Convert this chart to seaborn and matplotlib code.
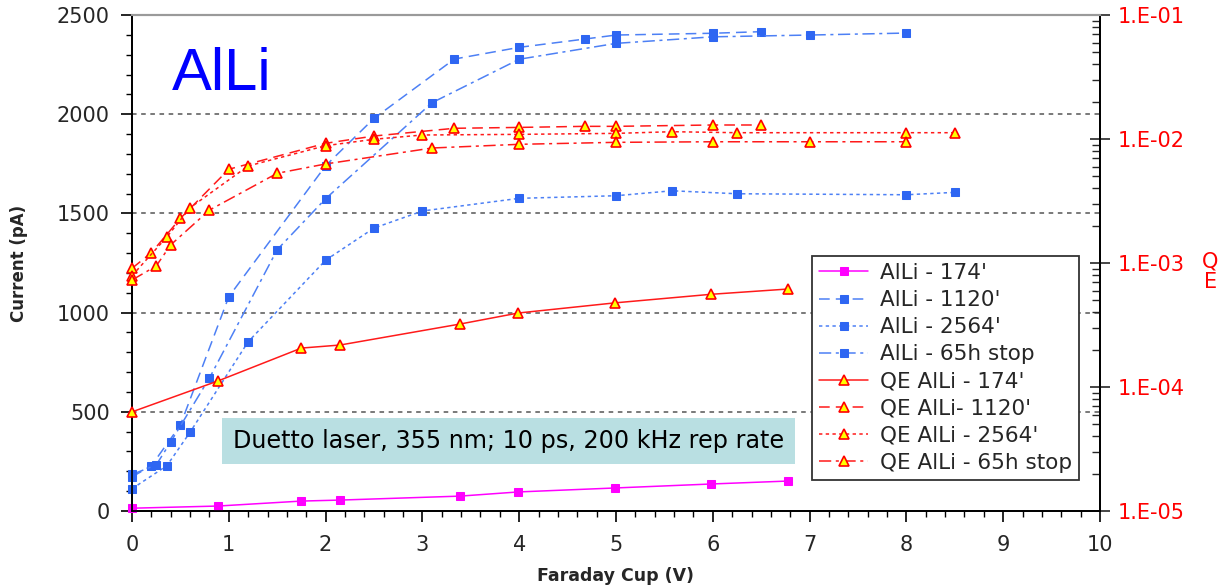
import numpy as np
import pandas as pd
import matplotlib
matplotlib.use("Agg")
import matplotlib.pyplot as plt
import seaborn as sns
from matplotlib.ticker import MultipleLocator, FuncFormatter, LogLocator, NullFormatter

# ---------------- data ----------------
x_174 = [0, 0.89, 1.75, 2.15, 3.39, 3.99, 4.99, 5.98, 6.78]
cur_174 = [14, 25, 50, 55, 75, 96, 116, 136, 151]
qe_174 = [6.3e-5, 1.12e-4, 2.06e-4, 2.18e-4, 3.22e-4, 3.95e-4, 4.77e-4, 5.59e-4, 6.17e-4]

x_1120 = [0, 0.2, 0.5, 1.0, 2.0, 2.5, 3.33, 4.0, 4.68, 5.0, 6.0, 6.5]
cur_1120 = [172, 228, 433, 1080, 1740, 1979, 2278, 2337, 2379, 2399, 2408, 2416]
qe_1120 = [9.06e-4, 1.21e-3, 2.29e-3, 5.70e-3, 9.23e-3, 1.057e-2, 1.22e-2,
           1.24e-2, 1.265e-2, 1.265e-2, 1.297e-2, 1.297e-2]

x_2564 = [0, 0.36, 0.6, 1.2, 2.0, 2.5, 3.0, 4.0, 5.0, 5.58, 6.25, 8.0, 8.5]
cur_2564 = [112, 228, 397, 853, 1264, 1426, 1512, 1576, 1589, 1614, 1599, 1594, 1606]
qe_2564 = [7.9e-4, 1.62e-3, 2.79e-3, 6.06e-3, 8.83e-3, 9.95e-3, 1.077e-2, 1.09e-2,
           1.11e-2, 1.145e-2, 1.124e-2, 1.124e-2, 1.124e-2]

x_65h = [0, 0.25, 0.4, 0.8, 1.5, 2.0, 3.1, 4.0, 5.0, 6.0, 7.0, 8.0]
cur_65h = [184, 232, 348, 670, 1317, 1574, 2058, 2277, 2357, 2390, 2399, 2409]
qe_65h = [7.29e-4, 9.46e-4, 1.40e-3, 2.67e-3, 5.29e-3, 6.29e-3, 8.46e-3, 9.06e-3,
          9.4e-3, 9.5e-3, 9.5e-3, 9.5e-3]

cur_labels = ["AlLi - 174'", "AlLi - 1120'", "AlLi - 2564'", "AlLi - 65h stop"]
qe_labels = ["QE AlLi - 174'", "QE AlLi- 1120'", "QE AlLi - 2564'", "QE AlLi - 65h stop"]

# ---------------- style ----------------
sns.set_style("ticks")
plt.rcParams["font.family"] = ["DejaVu Sans"]

fig = plt.figure(figsize=(12.21, 5.86), dpi=100)
ax = fig.add_axes([0.1081, 0.128, 0.7928, 0.8464])
ax2 = ax.twinx()

BLUE_L = "#4d80f5"
BLUE_M = "#2e66f2"
RED = "#ff1a1a"
PINK = "#ff00ff"

styles = ["-", (0, (7, 4)), (0, (2.2, 2.2)), (0, (8, 3, 2, 3))]

cur_x = [x_174, x_1120, x_2564, x_65h]
cur_y = [cur_174, cur_1120, cur_2564, cur_65h]
qe_y = [qe_174, qe_1120, qe_2564, qe_65h]

handles = []
for i in range(4):
    if i == 0:
        lc, mc = PINK, PINK
    else:
        lc, mc = BLUE_L, BLUE_M
    sns.lineplot(x=cur_x[i], y=cur_y[i], ax=ax, color=lc, linestyle=styles[i],
                 linewidth=1.1, marker="s", markersize=5.5, markerfacecolor=mc,
                 markeredgecolor=mc, estimator=None, sort=False, errorbar=None,
                 label=cur_labels[i], clip_on=False, zorder=3)
    handles.append(ax.get_lines()[-1])

for i in range(4):
    sns.lineplot(x=cur_x[i], y=qe_y[i], ax=ax2, color=RED, linestyle=styles[i],
                 linewidth=1.1, marker="^", markersize=7, markerfacecolor="#ffff00",
                 markeredgecolor="#ff0000", markeredgewidth=1.2, estimator=None,
                 sort=False, errorbar=None, label=qe_labels[i], clip_on=False, zorder=3)
    handles.append(ax2.get_lines()[-1])

for a in (ax, ax2):
    lg = a.get_legend()
    if lg is not None:
        lg.remove()

# ---------------- axes ----------------
ax.set_xlim(0, 10)
ax.set_ylim(0, 2500)
ax.xaxis.set_major_locator(MultipleLocator(1))
ax.xaxis.set_minor_locator(MultipleLocator(0.2))
ax.yaxis.set_major_locator(MultipleLocator(500))
ax.yaxis.set_minor_locator(MultipleLocator(100))
ax.tick_params(axis="both", which="major", direction="out", length=8, width=1.2,
               labelsize=15, color="black")
ax.tick_params(axis="both", which="minor", direction="out", length=4, width=1, color="black")
ax.tick_params(axis="y", which="major", pad=8)
ax.tick_params(axis="x", which="major", pad=9)

for v in [500, 1000, 1500, 2000]:
    ax.axhline(v, color="#555555", linestyle=(0, (3, 3)), linewidth=1.1, zorder=1)

ax.set_xlabel("Faraday Cup (V)", fontsize=12.5, fontweight="bold")
ax.set_ylabel("Current (pA)", fontsize=12, fontweight="bold")
ax.xaxis.set_label_coords(0.5, -0.112)
ax.yaxis.set_label_coords(-0.107, 0.5)

ax2.set_yscale("log")
ax2.set_ylim(1e-5, 1e-1)
ax2.yaxis.set_major_locator(LogLocator(base=10, numticks=10))
ax2.yaxis.set_minor_locator(LogLocator(base=10, subs=np.arange(2, 10), numticks=20))
ax2.yaxis.set_minor_formatter(NullFormatter())
ax2.yaxis.set_major_formatter(FuncFormatter(lambda v, p: "1.E{:+03d}".format(int(round(np.log10(v))))))
ax2.tick_params(axis="y", which="major", direction="inout", length=14, width=1.2,
                labelsize=15, labelcolor="#ff0000", pad=6)
ax2.tick_params(axis="y", which="minor", direction="in", length=6, width=1)
ax2.text(1.114, 0.482, "Q\nE", transform=ax2.transAxes, ha="center", va="center",
         color="#ff0000", fontsize=15, linespacing=1.0)

for a in (ax, ax2):
    a.spines["top"].set_color("#9a9a9a")
    a.spines["top"].set_linewidth(1.5)
    a.spines["left"].set_linewidth(1.3)
    a.spines["bottom"].set_linewidth(1.3)
    a.spines["right"].set_linewidth(1.3)
    a.spines["left"].set_color("black")
    a.spines["bottom"].set_color("black")
    a.spines["right"].set_color("black")

# ---------------- texts ----------------
ax.text(0.041, 0.849, "AlLi", transform=ax.transAxes, fontsize=43, color="#0000ff",
        family=["Liberation Sans", "DejaVu Sans"], ha="left", va="baseline")
ax.text(0.104, 0.141, "Duetto laser, 355 nm; 10 ps, 200 kHz rep rate", transform=ax.transAxes,
        fontsize=17.2, color="black", ha="left", va="center", zorder=2,
        bbox=dict(boxstyle="square,pad=0.45", fc="#b9dfe2", ec="none"))

leg = ax2.legend(handles=handles, labels=cur_labels + qe_labels, loc="upper left",
                 bbox_to_anchor=(0.7025, 0.514), borderaxespad=0, fontsize=15.5,
                 frameon=True, fancybox=False, framealpha=1, edgecolor="#333333",
                 handlelength=2.3, handletextpad=0.55, labelspacing=0.33,
                 borderpad=0.32, numpoints=1)
leg.get_frame().set_linewidth(1.3)
leg.set_zorder(10)

fig.savefig("out.png", dpi=100)
